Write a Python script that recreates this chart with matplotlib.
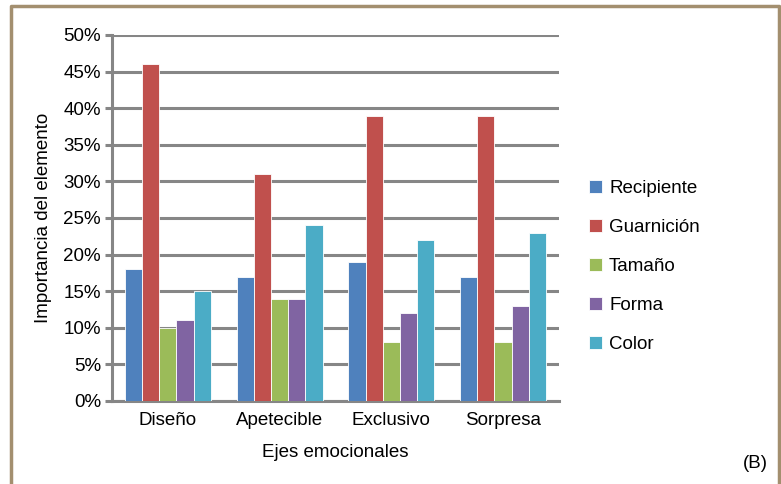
import numpy as np
import matplotlib
matplotlib.use("Agg")
import matplotlib.pyplot as plt
from matplotlib.lines import Line2D
from matplotlib.ticker import PercentFormatter

# Datos: importancia de cada elemento por eje emocional (%)
categorias = ["Diseño", "Apetecible", "Exclusivo", "Sorpresa"]
recipiente = [18, 17, 19, 17]
guarnicion = [46, 31, 39, 39]
tamano = [10, 14, 8, 8]
forma = [11, 14, 12, 13]
color = [15, 24, 22, 23]

series = ["Recipiente", "Guarnición", "Tamaño", "Forma", "Color"]
valores = [recipiente, guarnicion, tamano, forma, color]
colores = ["#4F81BD", "#C0504D", "#9BBB59", "#8064A2", "#4BACC6"]

plt.rcParams["font.family"] = ["Liberation Sans", "DejaVu Sans"]
fs = 13.5

fig = plt.figure(figsize=(7.81, 4.84), dpi=100)
ax = fig.add_axes([0.1434, 0.1715, 0.5723, 0.7562])

x = np.arange(len(categorias))
ancho = 1 / 6.5
for i, (nombre, vals, c) in enumerate(zip(series, valores, colores)):
    pos = x - 2.5 * ancho + (i + 0.5) * ancho
    ax.bar(pos, vals, width=ancho, color=c, edgecolor="white", linewidth=0.6,
           label=nombre, zorder=3)

gris = "#868686"
ax.set_xlim(-0.5, 3.5)
ax.set_ylim(0, 50)
ax.set_yticks(range(0, 51, 5))
ax.yaxis.set_major_formatter(PercentFormatter(decimals=0))
ax.grid(axis="y", color=gris, linewidth=2.2, zorder=0)
ax.set_xticks(x)
ax.set_xticklabels(categorias)
ax.tick_params(axis="y", length=5, width=2.2, color=gris, labelsize=fs, pad=3)
ax.tick_params(axis="x", length=0, labelsize=fs, pad=8)
for lado in ["top", "right"]:
    ax.spines[lado].set_visible(False)
for lado in ["left", "bottom"]:
    ax.spines[lado].set_color(gris)
    ax.spines[lado].set_linewidth(2.2)

ax.set_xlabel("Ejes emocionales", fontsize=fs, labelpad=11)
ax.set_ylabel("Importancia del elemento", fontsize=fs, labelpad=8)

fig.legend(loc="center left", bbox_to_anchor=(0.733, 0.449), frameon=False,
           fontsize=fs, handlelength=0.65, handleheight=0.65, handletextpad=0.4,
           labelspacing=1.17)

fig.text(0.983, 0.043, "(B)", fontsize=fs, ha="right", va="center")

# marco exterior (izquierda, arriba, derecha)
marco = "#A38F6F"
fig.add_artist(Line2D([0.0135, 0.0135, 0.997, 0.997], [0.0, 0.987, 0.987, 0.0],
                      transform=fig.transFigure, color=marco, linewidth=2.5))

fig.savefig("out.png", dpi=100)
